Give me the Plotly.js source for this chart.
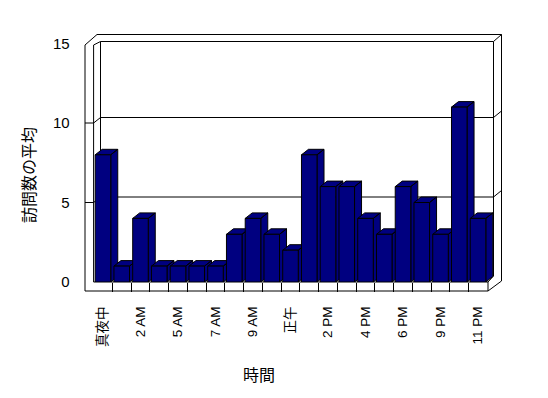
<!DOCTYPE html>
<html><head><meta charset="utf-8">
<script src="https://cdn.plot.ly/plotly-3.0.1.min.js"></script>
<style>html,body{margin:0;padding:0;background:#fff}#chart{width:548px;height:398px}</style>
</head><body><div id="chart"></div>
<script>
// ---- data ----
const hours = ['真夜中','1 AM','2 AM','3 AM','5 AM','6 AM','7 AM','8 AM','9 AM','10 AM','正午','1 PM','2 PM','3 PM','4 PM','5 PM','6 PM','7 PM','9 PM','10 PM','11 PM'];
const visits = [8,1,4,1,1,1,1,3,4,3,2,8,6,6,4,3,6,5,3,11,4];
const yTicks = [0,5,10,15];
const xTitle = '時間';
const yTitle = '訪問数の平均';

// ---- geometry ----
const W=548, H=398;
const X0=93.6, X1=487.4, Y0=282, Y15=43.5;
const pxPerX=(X1-X0)/hours.length, pxPerY=(Y0-Y15)/15;
const DXpx=7, DYpx=5.5;
const DX=DXpx/pxPerX, DY=DYpx/pxPerY, BW=0.83;
const xr=[-0.5, hours.length-0.5+DX];
const xDom=[X0/W, (X1+DXpx)/W];
const yDom=[1-Y0/H, 1-Y15/H];
const idx = hours.map((_,i)=>i);
const navy='#000080';
const FONT='Liberation Sans, Noto Sans CJK JP, sans-serif';

// side + top faces (3D depth), drawn behind the front faces
const faces = visits.map((v,i)=>{
  const l=i-BW/2, r=i+BW/2;
  return {type:'scatter', mode:'lines', fill:'toself', fillcolor:navy,
    x:[r, r, r+DX, r+DX, r, null, l, l+DX, r+DX, r, l],
    y:[0, v, v+DY, DY, 0, null, v, v+DY, v+DY, v, v],
    line:{color:'#000', width:1}, hoverinfo:'skip', showlegend:false,
    xaxis:'x', yaxis:'y'};
});
const front = {type:'bar', x:idx, y:visits, width:BW,
  marker:{color:navy, line:{color:'#000', width:1}},
  xaxis:'x2', yaxis:'y2', showlegend:false};

// ---- frame decoration ----
function seg(x0,y0,x1,y1){ return {type:'line', xref:'paper', yref:'paper', layer:'below',
  x0:x0/W, y0:1-y0/H, x1:x1/W, y1:1-y1/H, line:{color:'#000', width:1}}; }
const shapes=[
  seg(85,45,85,291), seg(85,291,488,291), seg(93.6,45,93.6,282), seg(93.6,282,488,282), seg(488,282,488,291),
  seg(85,45,97,34.5), seg(97,34.5,501.5,34.5),
  seg(93.6,45,100.5,41.5), seg(100.5,41.5,493.5,41.5), seg(100.5,41.5,100.5,276),
  seg(493.5,41.5,493.5,276), seg(493.5,41.5,501.5,34.5), seg(501.5,34.5,501.5,281),
  seg(488,291,501.5,281), seg(488,282,493.5,276)
];
yTicks.filter(t=>t>0 && t<15).forEach(t=>{
  const yv=Y0-t*pxPerY;
  shapes.push(seg(85,yv,93.6,yv), seg(93.6,yv,100.5,yv-DYpx), seg(100.5,yv-DYpx,493.5,yv-DYpx), seg(493.5,yv-DYpx,501.5,yv-DYpx-6.5));
});

const layout={
  width:W, height:H, margin:{l:0,r:0,t:0,b:0},
  paper_bgcolor:'#fff', plot_bgcolor:'rgba(0,0,0,0)',
  font:{family:FONT, color:'#000', size:13},
  showlegend:false,
  xaxis:{domain:xDom, range:xr, showgrid:false, zeroline:false, showline:false,
    tickmode:'array', tickvals:idx.filter(i=>i%2===0), ticktext:hours.filter((_,i)=>i%2===0),
    tickangle:-90, ticks:'outside', ticklen:9, tickcolor:'rgba(0,0,0,0)', ticklabelstandoff:9,
    tickfont:{size:13.5, family:FONT},
    minor:{tickmode:'array', tickvals:idx.slice(0,-1).map(i=>i+0.5), ticks:'outside', ticklen:9, tickcolor:'#000', tickwidth:1, showgrid:false},
    fixedrange:true},
  yaxis:{domain:yDom, range:[0,15], showgrid:false, zeroline:false, showline:false,
    tickmode:'array', tickvals:yTicks, ticktext:yTicks.map(String),
    ticks:'outside', ticklen:9, tickcolor:'rgba(0,0,0,0)', ticklabelstandoff:11,
    tickfont:{size:15, family:FONT}, fixedrange:true},
  xaxis2:{overlaying:'x', range:xr, visible:false, fixedrange:true},
  yaxis2:{overlaying:'y', range:[0,15], visible:false, fixedrange:true},
  shapes:shapes,
  annotations:[
    {text:xTitle, xref:'paper', yref:'paper', x:259/W, y:1-375/H, xanchor:'center', yanchor:'middle', showarrow:false, font:{size:16, family:FONT}},
    {text:yTitle, xref:'paper', yref:'paper', x:30/W, y:1-175/H, xanchor:'center', yanchor:'middle', textangle:-90, showarrow:false, font:{size:16, family:FONT}}
  ]
};
Plotly.newPlot('chart', faces.concat([front]), layout, {displayModeBar:false, staticPlot:true});
</script>
</body></html>
